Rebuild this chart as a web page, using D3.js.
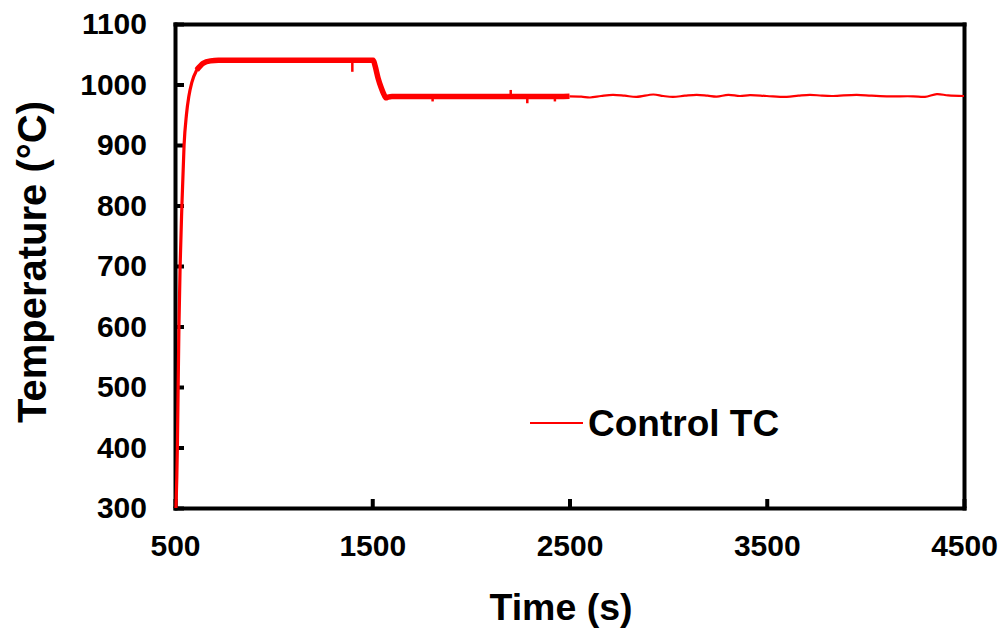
<!DOCTYPE html>
<html>
<head>
<meta charset="utf-8">
<script src="https://cdn.jsdelivr.net/npm/d3@7"></script>
<style>
  html, body { margin: 0; padding: 0; background: #fff; }
  svg { display: block; font-family: "Liberation Sans", Arial, sans-serif; font-weight: bold; }
</style>
</head>
<body>
<svg id="chart" width="1005" height="631"></svg>
<script>
// Control thermocouple record: fast-logged start-up and hold (time in s, temperature in °C)
const denseTime = [505, 512, 516, 520, 526, 535, 546, 558, 570, 585, 610, 643, 680, 720,
  800, 900, 1000, 1100, 1200, 1300, 1400, 1505,
  1515, 1530, 1545, 1560, 1570, 1580, 1600, 1700, 1800, 1900, 2000, 2100, 2200, 2300, 2400, 2500];
const denseTemp = [300, 400, 500, 600, 700, 800, 900, 950, 980, 1003, 1024, 1035, 1039, 1040,
  1040, 1040, 1040, 1040, 1040, 1040, 1040, 1040,
  1030, 1010, 995, 983, 978, 979, 980, 980, 980, 980, 980, 980, 980, 980, 980, 980.5];

// Short dropouts in the fast-logged record
const spikeTime = [1399, 1806, 2202, 2286, 2426];
const spikeBase = [1040, 980, 980, 980, 980];
const spikeTemp = [1021, 972, 991, 969, 972];

// Slower logging after 2500 s
const sparseTime = [2500, 2560, 2604, 2660, 2720, 2780, 2840, 2925, 2975, 3025, 3085, 3145, 3200,
  3246, 3305, 3364, 3415, 3500, 3601, 3660, 3719, 3780, 3836, 3956, 4030, 4108, 4242, 4302,
  4362, 4420, 4500];
const sparseTemp = [980.5, 980, 978.5, 981, 983, 981.5, 979.5, 983.5, 981, 979.5, 981.5, 983, 981.5,
  980, 983, 981, 982.5, 981, 979.5, 981.5, 983, 981.5, 981, 983, 981.5, 980.5, 980.5, 979.5,
  984, 982, 981];

const xTicks = [500, 1500, 2500, 3500, 4500];
const yTicks = [300, 400, 500, 600, 700, 800, 900, 1000, 1100];
const seriesName = "Control TC";

const svg = d3.select("#chart");
const margin = { left: 175, top: 24, right: 1005 - 964, bottom: 631 - 508 };
const W = 1005 - margin.left - margin.right;
const H = 631 - margin.top - margin.bottom;

const x = d3.scaleLinear().domain([500, 4500]).range([0, W]);
const y = d3.scaleLinear().domain([300, 1100]).range([H, 0]);

const g = svg.append("g").attr("transform", `translate(${margin.left},${margin.top})`);

function styleAxis(sel) {
  sel.select(".domain").attr("stroke", "#000").attr("stroke-width", 4).attr("stroke-linecap", "square");
  sel.selectAll(".tick line").attr("stroke", "#000").attr("stroke-width", 4);
  sel.selectAll(".tick text").attr("fill", "#000").attr("font-size", 30).attr("font-weight", "bold")
    .attr("font-family", "Liberation Sans, Arial, sans-serif");
}

// Box frame with inward ticks
g.append("g").attr("transform", `translate(0,${H})`)
  .call(d3.axisBottom(x).tickValues(xTicks).tickFormat(d3.format("d")).tickSizeInner(-9).tickSizeOuter(0).tickPadding(27))
  .call(styleAxis);
g.append("g")
  .call(d3.axisLeft(y).tickValues(yTicks).tickFormat(d3.format("d")).tickSizeInner(-9).tickSizeOuter(0).tickPadding(28))
  .call(styleAxis);
g.append("g").call(d3.axisTop(x).tickValues([]).tickSizeOuter(0)).call(styleAxis);
g.append("g").attr("transform", `translate(${W},0)`)
  .call(d3.axisRight(y).tickValues([]).tickSizeOuter(0)).call(styleAxis);

const red = "#ff0000";
const dense = denseTime.map((t, i) => [t, denseTemp[i]]);
const sparse = sparseTime.map((t, i) => [t, sparseTemp[i]]);

// Slow-logged tail, smooth thin trace
g.append("path")
  .attr("fill", "none").attr("stroke", red).attr("stroke-width", 2.2)
  .attr("d", d3.line().x(d => x(d[0])).y(d => y(d[1])).curve(d3.curveCatmullRom)(sparse));

// Heating ramp
g.append("path")
  .attr("fill", "none").attr("stroke", red).attr("stroke-width", 3.2).attr("stroke-linejoin", "round")
  .attr("d", d3.line().x(d => x(d[0])).y(d => y(d[1])).curve(d3.curveMonotoneX)(dense.filter(d => d[0] <= 720)));

// Noisy hold periods: dense sampling renders as a wide band
g.append("path")
  .attr("fill", "none").attr("stroke", red).attr("stroke-width", 5.5).attr("stroke-linejoin", "round")
  .attr("d", d3.line().x(d => x(d[0])).y(d => y(d[1])).curve(d3.curveMonotoneX)(dense.filter(d => d[0] >= 610)));

// Dropouts
spikeTime.forEach((t, i) => {
  g.append("line")
    .attr("x1", x(t)).attr("x2", x(t))
    .attr("y1", y(spikeBase[i])).attr("y2", y(spikeTemp[i]))
    .attr("stroke", red).attr("stroke-width", 2.5);
});

// Legend
g.append("line")
  .attr("x1", 530 - margin.left).attr("x2", 583 - margin.left)
  .attr("y1", 423 - margin.top).attr("y2", 423 - margin.top)
  .attr("stroke", red).attr("stroke-width", 2);
g.append("text")
  .attr("x", 588 - margin.left).attr("y", 436 - margin.top)
  .attr("font-size", 37).attr("fill", "#000")
  .text(seriesName);

// Axis titles
svg.append("text")
  .attr("x", 561).attr("y", 620).attr("text-anchor", "middle")
  .attr("font-size", 37.5).attr("fill", "#000")
  .text("Time (s)");
svg.append("text")
  .attr("transform", "translate(46,262) rotate(-90)").attr("text-anchor", "middle")
  .attr("font-size", 40).attr("fill", "#000")
  .text("Temperature (°C)");
</script>
</body>
</html>
